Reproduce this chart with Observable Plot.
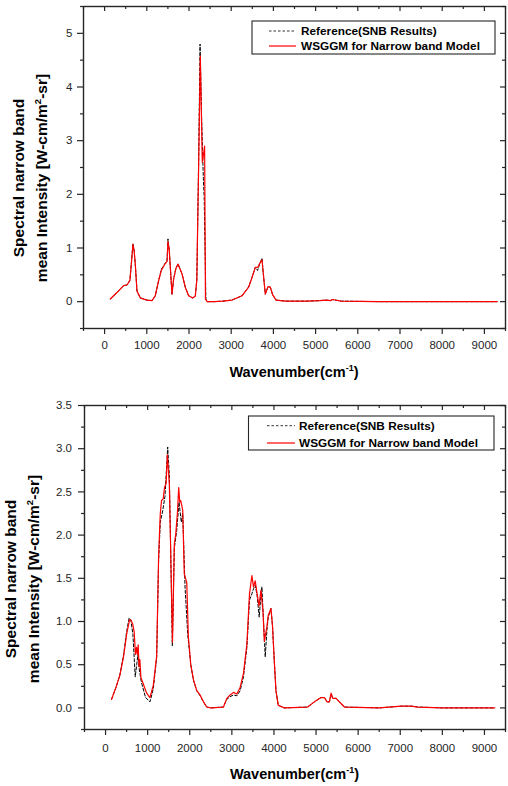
<!DOCTYPE html>
<html><head><meta charset="utf-8">
<script src="https://cdn.jsdelivr.net/npm/d3@7"></script>
<script src="https://cdn.jsdelivr.net/npm/@observablehq/plot@0.6"></script>
<style>
html,body{margin:0;padding:0;background:#fff;}
#c{width:508px;}
#c svg{display:block;}
</style></head><body><div id="c"></div>
<script>
// ---- data: top panel ----
const topWsggmX = [135,293,451,530,570,600,633,672,700,727,767,846,1000,1123,1201,1280,1343,1438,1480,1502,1533,1597,1635,1690,1739,1834,1912,1991,2085,2149,2185,2228,2268,2315,2345,2370,2390,2430,2600,2800,3019,3256,3412,3493,3571,3635,3666,3730,3754,3808,3872,3927,3981,4062,4282,4800,5100,5250,5350,5400,5600,6500,9299];
const topWsggmY = [0.05,0.17,0.30,0.31,0.36,0.40,0.70,1.07,0.95,0.70,0.20,0.07,0.03,0.02,0.11,0.39,0.58,0.71,0.75,1.12,0.95,0.14,0.42,0.62,0.70,0.52,0.27,0.11,0.07,0.10,0.40,2.50,4.58,2.60,2.75,2.90,0.05,0.00,0.00,0.01,0.03,0.11,0.27,0.45,0.64,0.64,0.70,0.78,0.58,0.14,0.28,0.27,0.13,0.03,0.01,0.01,0.02,0.03,0.02,0.04,0.01,0.00,0.00];
const topRefX = [135,293,451,530,570,600,633,672,700,727,767,846,1000,1123,1201,1280,1343,1438,1480,1502,1533,1597,1635,1690,1739,1834,1912,1991,2085,2149,2185,2228,2262,2300,2340,2360,2400,2430,2600,2800,3019,3256,3412,3493,3571,3625,3666,3730,3754,3808,3872,3927,3981,4062,4282,4800,5100,5250,5350,5400,5600,6500,9299];
const topRefY = [0.05,0.17,0.30,0.31,0.36,0.40,0.70,1.08,0.95,0.70,0.20,0.07,0.03,0.02,0.11,0.39,0.60,0.72,0.76,1.17,0.95,0.14,0.42,0.62,0.70,0.52,0.27,0.11,0.07,0.10,0.40,2.60,4.80,3.40,2.30,1.94,0.05,0.00,0.00,0.01,0.03,0.11,0.27,0.45,0.64,0.58,0.68,0.81,0.58,0.14,0.28,0.27,0.13,0.03,0.01,0.01,0.02,0.03,0.02,0.04,0.01,0.00,0.00];

// ---- data: bottom panel ----
const botWsggmX = [143,250,340,430,500,570,610,645,680,710,735,755,775,795,815,840,895,976,1055,1134,1214,1260,1300,1330,1370,1400,1440,1468,1515,1555,1590,1634,1667,1706,1738,1762,1786,1833,1870,1929,1967,1990,2024,2087,2166,2245,2325,2404,2500,2800,2881,2960,3038,3119,3198,3276,3357,3419,3476,3514,3555,3600,3645,3690,3740,3772,3833,3864,3929,3967,4007,4048,4102,4245,4800,4960,5119,5198,5262,5317,5357,5397,5476,5555,5674,6500,7024,7262,7419,8000,9245];
const botWsggmY = [0.10,0.24,0.38,0.60,0.85,1.02,1.01,0.97,0.88,0.62,0.70,0.62,0.73,0.48,0.56,0.35,0.28,0.17,0.12,0.26,0.60,1.75,2.25,2.40,2.42,2.55,2.60,2.93,2.59,1.63,0.76,1.90,2.01,2.25,2.55,2.38,2.40,2.29,1.55,1.45,0.82,0.70,0.50,0.33,0.20,0.15,0.07,0.01,0.00,0.01,0.11,0.15,0.18,0.16,0.24,0.40,0.74,1.32,1.53,1.40,1.47,1.32,1.18,1.36,1.12,0.77,0.94,1.07,1.15,0.94,0.55,0.20,0.03,0.00,0.01,0.07,0.12,0.12,0.07,0.07,0.17,0.11,0.11,0.07,0.01,0.00,0.02,0.02,0.01,0.00,0.00];
const botRefX = [143,250,340,430,500,560,600,650,705,740,770,800,850,950,1055,1134,1214,1260,1300,1357,1412,1476,1515,1555,1586,1634,1690,1745,1800,1833,1888,1952,2024,2087,2166,2245,2325,2404,2500,2800,2881,2960,3038,3119,3198,3276,3357,3419,3476,3514,3555,3600,3650,3690,3714,3752,3793,3833,3864,3929,3967,4007,4048,4102,4245,4800,4960,5119,5198,5262,5317,5357,5397,5476,5555,5674,6500,7024,7262,7419,8000,9245];
const botRefY = [0.10,0.24,0.38,0.62,0.88,1.04,1.02,0.85,0.36,0.50,0.62,0.45,0.30,0.12,0.07,0.22,0.58,1.70,2.15,2.28,2.45,3.02,2.70,1.60,0.72,1.85,2.05,2.38,2.15,2.25,1.40,0.85,0.50,0.32,0.20,0.14,0.07,0.01,0.00,0.01,0.10,0.13,0.15,0.14,0.20,0.36,0.70,1.25,1.32,1.38,1.42,1.30,1.05,1.30,1.40,1.00,0.59,0.90,1.05,1.15,0.94,0.55,0.20,0.03,0.00,0.01,0.07,0.12,0.12,0.07,0.07,0.16,0.11,0.11,0.07,0.01,0.00,0.02,0.02,0.01,0.00,0.00];

// ---- axes ----
const xDomain = [-500, 9500];
const xMajor = [0,1000,2000,3000,4000,5000,6000,7000,8000,9000];
const xMinor = [-500,500,1500,2500,3500,4500,5500,6500,7500,8500,9500];
const topYDomain = [-0.5, 5.5];
const topYMajor = [0,1,2,3,4,5];
const topYMinor = [-0.5,0.5,1.5,2.5,3.5,4.5,5.5];
const botYDomain = [-0.25, 3.5];
const botYMajor = [0,0.5,1,1.5,2,2.5,3,3.5];
const botYMinor = [-0.25,0.25,0.75,1.25,1.75,2.25,2.75,3.25];

const seriesNames = ["Reference(SNB Results)", "WSGGM for Narrow band Model"];
const xTitle = "Wavenumber(cm";
const yTitle1 = "Spectral narrow band";
const yTitle2a = "mean Intensity [W-cm/m";
const yTitle2b = "-sr]";

const FONT = "'Liberation Sans', Arial, Helvetica, sans-serif";
const INK = "#262626";

function panel(o) {
  const W = 508, H = 393;
  const innerW = W - o.ml - o.mr, innerH = H - o.mt - o.mb;
  const ref = o.refX.map((x, i) => ({x, y: o.refY[i]}));
  const ws = o.wsX.map((x, i) => ({x, y: o.wsY[i]}));
  const chart = Plot.plot({
    width: W, height: H,
    marginTop: o.mt, marginBottom: o.mb, marginLeft: o.ml, marginRight: o.mr,
    style: {fontFamily: FONT, fontSize: "11.5px", color: INK, background: "#fff", overflow: "visible"},
    x: {domain: xDomain},
    y: {domain: o.yDomain},
    marks: [
      Plot.line(ref, {x: "x", y: "y", stroke: "#000", strokeWidth: 1, strokeDasharray: "3,2"}),
      Plot.line(ws, {x: "x", y: "y", stroke: "#ff0000", strokeWidth: 1.2}),
      Plot.frame({stroke: INK, strokeWidth: 1.4}),
      Plot.axisX({ticks: xMajor, tickSize: 6, tickPadding: o.xPad, label: null, strokeWidth: 1.2, tickFormat: d => String(d)}),
      Plot.tickX(xMinor, {x: d => d, insetTop: innerH, insetBottom: -3, stroke: INK, strokeWidth: 1.2}),
      Plot.tickX(xMajor, {x: d => d, insetBottom: innerH - 5, stroke: INK, strokeWidth: 1.2}),
      Plot.tickX(xMinor, {x: d => d, insetBottom: innerH - 3, stroke: INK, strokeWidth: 1.2}),
      Plot.axisY({ticks: o.yMajor, tickSize: 6, tickPadding: o.yPad, label: null, strokeWidth: 1.2, tickFormat: o.yFmt}),
      Plot.tickY(o.yMinor, {y: d => d, insetRight: innerW, insetLeft: -3, stroke: INK, strokeWidth: 1.2}),
      Plot.tickY(o.yMajor, {y: d => d, insetLeft: innerW - 5, stroke: INK, strokeWidth: 1.2}),
      Plot.tickY(o.yMinor, {y: d => d, insetLeft: innerW - 3, stroke: INK, strokeWidth: 1.2})
    ]
  });
  const svg = d3.select(chart);
  // x title
  const cx = o.ml + innerW / 2;
  const t = svg.append("text").attr("x", cx).attr("y", o.xTitleY)
    .attr("text-anchor", "middle").attr("font-family", FONT).attr("font-weight", "bold")
    .attr("font-size", 14.5).attr("fill", "#000");
  t.append("tspan").text(xTitle);
  t.append("tspan").attr("font-size", 9).attr("dy", -6).text("-1");
  t.append("tspan").attr("dy", 6).text(")");
  // y title (two lines)
  svg.append("text").attr("transform", `translate(${o.y1x},${o.yTitleY}) rotate(-90)`)
    .attr("text-anchor", "middle").attr("font-family", FONT).attr("font-weight", "bold")
    .attr("font-size", 15.5).attr("fill", "#000").text(yTitle1);
  const l2 = svg.append("text").attr("transform", `translate(${o.y2x},${o.yTitleY}) rotate(-90)`)
    .attr("text-anchor", "middle").attr("font-family", FONT).attr("font-weight", "bold")
    .attr("font-size", 15.5).attr("fill", "#000");
  l2.append("tspan").text(yTitle2a);
  l2.append("tspan").attr("font-size", 9.5).attr("dy", -6).text("2");
  l2.append("tspan").attr("dy", 6).text(yTitle2b);
  // legend
  const L = o.legend;
  const g = svg.append("g");
  g.append("rect").attr("x", L.x).attr("y", L.y).attr("width", L.w).attr("height", L.h)
    .attr("fill", "#fff").attr("stroke", INK).attr("stroke-width", 1.1);
  const rows = [
    {name: seriesNames[0], stroke: "#333", dash: "2.5,2", width: 1},
    {name: seriesNames[1], stroke: "#ff0000", dash: null, width: 1.2}
  ];
  rows.forEach((r, i) => {
    const cy = L.y + L.row0 + i * L.gap;
    g.append("line").attr("x1", L.sx1).attr("x2", L.sx2).attr("y1", cy).attr("y2", cy)
      .attr("stroke", r.stroke).attr("stroke-width", r.width)
      .attr("stroke-dasharray", r.dash);
    g.append("text").attr("x", L.tx).attr("y", cy + 4.2).attr("text-anchor", "start")
      .attr("font-family", FONT).attr("font-weight", "bold").attr("font-size", 11.8)
      .attr("fill", "#000").text(r.name);
  });
  return chart;
}

const topPanel = panel({
  mt: 6, mb: 65, ml: 83, mr: 3,
  yDomain: topYDomain, yMajor: topYMajor, yMinor: topYMinor, yFmt: d => String(d),
  xPad: 6, yPad: 5,
  wsX: topWsggmX, wsY: topWsggmY, refX: topRefX, refY: topRefY,
  xTitleY: 377, y1x: 24, y2x: 46.5, yTitleY: 178,
  legend: {x: 252, y: 21, w: 243, h: 33, row0: 10, gap: 15, sx1: 269, sx2: 296, tx: 301}
});
const botPanel = panel({
  mt: 12, mb: 57, ml: 84, mr: 3,
  yDomain: botYDomain, yMajor: botYMajor, yMinor: botYMinor, yFmt: d3.format(".1f"),
  xPad: 8, yPad: 6.5,
  wsX: botWsggmX, wsY: botWsggmY, refX: botRefX, refY: botRefY,
  xTitleY: 385.5, y1x: 16, y2x: 38.5, yTitleY: 186,
  legend: {x: 248.5, y: 23, w: 245.5, h: 34, row0: 9.7, gap: 17.3, sx1: 267, sx2: 295, tx: 299}
});
document.getElementById("c").append(topPanel, botPanel);
</script>
</body></html>
